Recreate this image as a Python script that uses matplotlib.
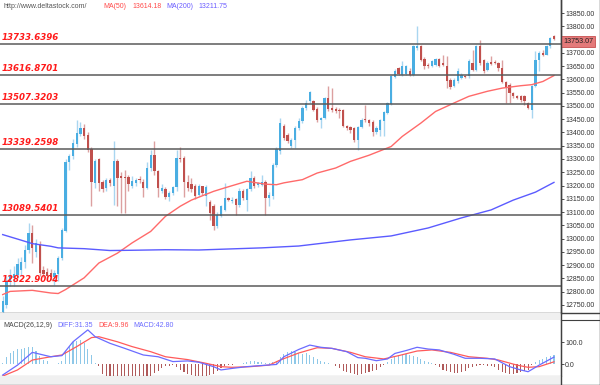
import matplotlib
matplotlib.use("Agg")
import matplotlib.pyplot as plt
from matplotlib.lines import Line2D
from matplotlib.patches import Rectangle
import numpy as np

# ---------------- data ----------------
opens = [12725, 12750, 12840, 12850, 12864, 12880, 12910, 12958, 13020, 12950,
         12975, 12880, 12875, 12870, 12855, 12865, 12927, 13030, 13290, 13310,
         13355, 13395, 13418, 13390, 13337, 13210, 13298, 13212, 13190, 13222,
         13197, 13291, 13235, 13233, 13232, 13200, 13210, 13225, 13215, 13192,
         13266, 13316, 13254, 13180, 13185, 13158, 13170, 13195, 13305, 13305,
         13215, 13205, 13200, 13165, 13197, 13160, 13137, 13122, 13046, 13084,
         13109, 13153, 13141, 13149, 13128, 13178, 13147, 13185, 13228, 13201,
         13203, 13212, 13153, 13159, 13279, 13329, 13426, 13392, 13348, 13373,
         13417, 13442, 13492, 13517, 13517, 13488, 13448, 13455, 13530, 13492,
         13488, 13486, 13483, 13423, 13421, 13417, 13370, 13421, 13450, 13448,
         13440, 13400, 13410, 13442, 13473, 13508, 13609, 13643, 13618, 13621,
         13630, 13618, 13718, 13724, 13677, 13655, 13649, 13655, 13677, 13661,
         13651, 13599, 13576, 13592, 13605, 13614, 13614, 13661, 13636, 13724,
         13674, 13634, 13667, 13665, 13663, 13643, 13589, 13580, 13548, 13536,
         13538, 13536, 13511, 13486, 13574, 13674, 13699, 13693, 13724, 13762]
highs = [12785, 12860, 12885, 12895, 12925, 12930, 12975, 13058, 13052, 13000,
         12990, 12895, 12890, 12885, 12880, 12935, 13040, 13300, 13320, 13375,
         13448, 13440, 13430, 13400, 13345, 13300, 13305, 13220, 13230, 13230,
         13366, 13300, 13250, 13260, 13240, 13235, 13230, 13235, 13225, 13290,
         13335, 13366, 13260, 13205, 13195, 13180, 13200, 13335, 13345, 13310,
         13240, 13230, 13205, 13205, 13200, 13203, 13145, 13130, 13100, 13125,
         13210, 13158, 13155, 13152, 13190, 13185, 13190, 13254, 13235, 13215,
         13241, 13220, 13175, 13285, 13345, 13455, 13432, 13398, 13380, 13425,
         13455, 13500, 13524, 13555, 13524, 13495, 13460, 13535, 13574, 13568,
         13495, 13492, 13488, 13428, 13425, 13420, 13425, 13455, 13505, 13452,
         13445, 13425, 13450, 13480, 13515, 13615, 13640, 13648, 13668, 13655,
         13643, 13730, 13800, 13730, 13683, 13660, 13672, 13680, 13680, 13693,
         13687, 13605, 13605, 13643, 13625, 13618, 13675, 13712, 13730, 13749,
         13678, 13668, 13687, 13674, 13667, 13674, 13592, 13585, 13552, 13540,
         13542, 13540, 13515, 13578, 13705, 13705, 13712, 13728, 13760, 13768]
lows = [12715, 12740, 12820, 12822, 12850, 12860, 12890, 12945, 12908, 12930,
        12860, 12855, 12845, 12845, 12825, 12840, 12920, 13025, 13260, 13300,
        13345, 13385, 13375, 13325, 13122, 13190, 13180, 13175, 13180, 13200,
        13128, 13122, 13097, 13097, 13180, 13190, 13200, 13210, 13155, 13185,
        13255, 13240, 13155, 13170, 13150, 13140, 13165, 13180, 13290, 13155,
        13178, 13175, 13150, 13160, 13165, 13122, 13071, 13034, 13040, 13080,
        13105, 13140, 13135, 13090, 13120, 13145, 13103, 13180, 13190, 13195,
        13198, 13090, 13122, 13150, 13270, 13320, 13370, 13360, 13342, 13342,
        13410, 13436, 13485, 13510, 13480, 13440, 13417, 13450, 13480, 13478,
        13475, 13455, 13420, 13410, 13398, 13365, 13335, 13415, 13440, 13425,
        13385, 13395, 13385, 13385, 13470, 13505, 13605, 13615, 13612, 13618,
        13612, 13612, 13712, 13668, 13640, 13643, 13645, 13650, 13645, 13650,
        13567, 13565, 13570, 13588, 13600, 13604, 13605, 13630, 13630, 13655,
        13625, 13630, 13655, 13658, 13630, 13585, 13511, 13511, 13530, 13525,
        13515, 13505, 13488, 13454, 13570, 13630, 13688, 13690, 13720, 13750]
closes = [12765, 12840, 12858, 12865, 12905, 12910, 12958, 13020, 12965, 12985,
          12870, 12868, 12860, 12855, 12870, 12927, 13034, 13290, 13310, 13360,
          13398, 13418, 13385, 13335, 13212, 13291, 13210, 13185, 13222, 13210,
          13291, 13228, 13229, 13228, 13204, 13216, 13222, 13220, 13190, 13266,
          13316, 13254, 13191, 13191, 13155, 13170, 13195, 13305, 13300, 13215,
          13190, 13185, 13162, 13197, 13172, 13195, 13097, 13046, 13090, 13122,
          13153, 13147, 13147, 13128, 13178, 13153, 13185, 13228, 13197, 13210,
          13212, 13153, 13165, 13279, 13338, 13436, 13379, 13367, 13373, 13417,
          13442, 13492, 13511, 13551, 13486, 13448, 13455, 13530, 13488, 13483,
          13482, 13480, 13423, 13417, 13411, 13373, 13421, 13448, 13446, 13436,
          13402, 13417, 13445, 13476, 13511, 13611, 13630, 13621, 13649, 13649,
          13618, 13724, 13724, 13674, 13649, 13649, 13668, 13677, 13651, 13655,
          13592, 13571, 13599, 13630, 13618, 13609, 13668, 13636, 13724, 13661,
          13630, 13663, 13659, 13661, 13643, 13589, 13567, 13548, 13536, 13530,
          13521, 13517, 13492, 13574, 13674, 13699, 13693, 13724, 13756, 13753.07]

ma50_idx = [0, 2, 8, 13, 15, 17, 22, 26, 31, 35, 40, 44, 48, 51, 57, 60, 66, 71,
            74, 76, 81, 85, 90, 94, 99, 105, 108, 113, 117, 122, 126, 131, 135,
            140, 143, 146, 149]
ma50_val = [12789, 12801, 12805, 12795, 12793, 12808, 12852, 12908, 12945, 12984,
            13027, 13084, 13122, 13145, 13178, 13191, 13216, 13205, 13203, 13210,
            13222, 13247, 13266, 13291, 13314, 13347, 13385, 13435, 13479, 13511,
            13536, 13555, 13567, 13576, 13580, 13592, 13614.18]

ma200_idx = [0, 5, 8, 13, 15, 22, 29, 35, 44, 53, 70, 80, 94, 105, 115, 124,
             132, 138, 144, 149]
ma200_val = [13015, 12994, 12981, 12971, 12965, 12962, 12955, 12956, 12958, 12957,
             12965, 12972, 12995, 13010, 13040, 13078, 13108, 13145, 13175, 13211.75]

levels = [13733.6396, 13616.8701, 13507.3203, 13339.2598, 13089.5401, 12822.9004]

diff_idx = [0, 4, 8, 13, 16, 19, 23, 25, 29, 33, 38, 42, 46, 50, 53, 57, 59, 62,
            66, 69, 74, 76, 80, 83, 86, 89, 93, 96, 98, 101, 104, 106, 109, 112,
            115, 118, 122, 125, 129, 133, 137, 140, 142, 145, 149]
diff_val = [-50, -5, 53, 33, 38, 101, 155, 124, 94, 71, 41, 33, 11, 14, 8, -12,
            -27, -20, -12, -8, -2, 33, 66, 86, 76, 71, 56, 29, 26, 15, 23, 48, 61,
            76, 68, 64, 44, 26, 26, 23, -12, -27, -35, -5, 31.35]
dea_idx = [0, 4, 8, 13, 16, 20, 24, 26, 31, 35, 40, 44, 50, 55, 59, 62, 67, 72,
           75, 80, 85, 89, 94, 98, 103, 107, 112, 116, 121, 126, 131, 134, 139,
           142, 145, 149]
dea_val = [-55, -27, 18, 33, 41, 79, 120, 124, 101, 79, 56, 33, 20, 3, -12, -15,
           -12, -5, 18, 50, 74, 71, 53, 33, 23, 38, 59, 64, 53, 33, 26, 18, -5,
           -15, -12, 9.96]
macd_hist = [5, 30, 50, 60, 68, 70, 74, 79, 76, 58,
             35, 20, 12, 2, -2, 3, 12, 60, 80, 98,
             105, 108, 95, 70, 40, 5, -10, -45, -55, -55,
             -55, -55, -55, -55, -55, -55, -55, -55, -55, -55,
             -55, -40, -30, -20, -10, -8, -6, -15, -25, -35,
             -45, -50, -55, -55, -55, -55, -50, -45, -30, -20,
             -10, -5, -3, -2, 0, 5, 10, 12, 12, 10,
             8, 5, 5, 8, 15, 30, 45, 55, 60, 55,
             48, 45, 48, 40, 33, 22, 15, 8, 3, 0,
             -10, -20, -30, -35, -40, -45, -48, -45, -40, -35,
             -30, -25, -15, -5, 10, 25, 35, 40, 42, 44,
             40, 35, 30, 22, 15, 8, 3, -5, -15, -25,
             -30, -35, -40, -40, -38, -30, -20, -12, -8, -5,
             -5, -8, -10, -15, -25, -35, -40, -45, -45, -40,
             -35, -30, -25, -5, 10, 20, 25, 30, 38, 42.80]

price_ticks = list(range(12750, 13851, 50))
macd_ticks = [0.0, 100.0]

# ---------------- figure ----------------
W, H = 600, 385
fig = plt.figure(figsize=(W / 100, H / 100), dpi=100)
fig.patch.set_facecolor("white")


def fy(py):
    return 1 - py / H


FONT = "Liberation Sans"
UP, DOWN = "#4aaee2", "#c0504d"
UP_W, DOWN_W = "#a9d6f0", "#dca0a0"

# grey bands
for y0, y1 in [(313, 320), (376, 384)]:
    fig.patches.append(Rectangle((0, fy(y1)), 561 / W, (y1 - y0) / H,
                                 transform=fig.transFigure, facecolor="#f0f0f0",
                                 edgecolor="none", zorder=0))

ax = fig.add_axes([0, fy(313), 561 / W, 313 / H])
ax.set_facecolor("white")
n = len(closes)
x = np.arange(n)
ax.set_xlim(-0.73, 150.9)
ax.set_ylim(12719.6, 13899)

o = np.array(opens, float)
c = np.array(closes, float)
hi = np.array(highs, float)
lo = np.array(lows, float)
up = c >= o
ax.vlines(x[up], lo[up], hi[up], color=UP_W, lw=1, zorder=2)
ax.vlines(x[~up], lo[~up], hi[~up], color=DOWN_W, lw=1, zorder=2)
body_bot = np.minimum(o, c)
body_h = np.maximum(np.abs(c - o), 3)
ax.bar(x[up], body_h[up], bottom=body_bot[up], width=0.62, color=UP, zorder=3, lw=0)
ax.bar(x[~up], body_h[~up], bottom=body_bot[~up], width=0.62, color=DOWN, zorder=3, lw=0)

ax.plot(ma50_idx, ma50_val, color="#ff6a6a", lw=1, zorder=4)
ax.plot(ma200_idx, ma200_val, color="#5b5bff", lw=1, zorder=4)

for lv in levels:
    ax.axhline(lv, color="#5a5a5a", lw=1.1, zorder=5)
    ax.annotate(f"{lv:.4f}", xy=(0, lv), xycoords=("axes fraction", "data"),
                xytext=(2, 2), textcoords="offset pixels", ha="left", va="bottom",
                color="#ff1a1a", fontsize=6.2, fontweight="bold", fontstyle="italic",
                family="DejaVu Sans", zorder=6)

ax.yaxis.tick_right()
ax.set_yticks(price_ticks)
ax.set_yticklabels([f"{t:.2f}" for t in price_ticks])
ax.tick_params(axis="y", labelsize=5, length=2, width=0.6, colors="#333333", pad=1)
for lab in ax.get_yticklabels():
    lab.set_family(FONT)
ax.set_xticks([])
for s in ["top", "left"]:
    ax.spines[s].set_visible(False)
ax.spines["right"].set_color("#404040")
ax.spines["bottom"].set_color("#404040")
ax.spines["right"].set_linewidth(1)
ax.spines["bottom"].set_linewidth(1)

ax.annotate(f"{closes[-1]:.2f}", xy=(1, closes[-1]), xycoords=("axes fraction", "data"),
            xytext=(2, -3), textcoords="offset pixels", ha="left", va="center",
            fontsize=5.2, family=FONT, color="#222222", zorder=10,
            bbox=dict(boxstyle="square,pad=0.25", facecolor="#e47a7a",
                      edgecolor="#c85050", lw=0.6), annotation_clip=False)

# header
fig.text(3 / W, fy(6), "http://www.deltastock.com/", fontsize=5, family=FONT,
         color="#555555", va="center", ha="left")
fig.text(103 / W, fy(6), "MA(50)", fontsize=5, family=FONT, color="#ff4a4a", va="center")
fig.text(132 / W, fy(6), "13614.18", fontsize=5, family=FONT, color="#ff4a4a", va="center")
fig.text(166 / W, fy(6), "MA(200)", fontsize=5, family=FONT, color="#6a5cff", va="center")
fig.text(198 / W, fy(6), "13211.75", fontsize=5, family=FONT, color="#6a5cff", va="center")

# MACD panel
ax2 = fig.add_axes([0, fy(376), 561 / W, 56 / H])
ax2.set_facecolor("white")
ax2.set_xlim(-0.73, 150.9)
ax2.set_ylim(-54.5, 200)
hv = np.array(macd_hist, float)
pos = hv >= 0
ax2.bar(x[pos], hv[pos], width=0.3, color="#8ec8e8", lw=0, zorder=2)
ax2.bar(x[~pos], hv[~pos], width=0.3, color="#b05a5a", lw=0, zorder=2)
ax2.plot(dea_idx, dea_val, color="#ff5a5a", lw=0.9, zorder=3)
ax2.plot(diff_idx, diff_val, color="#6b6bff", lw=0.9, zorder=4)
ax2.yaxis.tick_right()
ax2.set_yticks(macd_ticks)
ax2.set_yticklabels([f"{t:.1f}" for t in macd_ticks])
ax2.tick_params(axis="y", labelsize=5, length=2, width=0.6, colors="#333333", pad=1)
for lab in ax2.get_yticklabels():
    lab.set_family(FONT)
ax2.set_xticks([])
for s in ["top", "left"]:
    ax2.spines[s].set_visible(False)
ax2.spines["right"].set_color("#404040")
ax2.spines["bottom"].set_color("#404040")

fig.text(3 / W, fy(325.5), "MACD(26,12,9)", fontsize=5, family=FONT, color="#444444", va="center")
fig.text(57 / W, fy(325.5), "DIFF:31.35", fontsize=5, family=FONT, color="#6b6bff", va="center")
fig.text(98 / W, fy(325.5), "DEA:9.96", fontsize=5, family=FONT, color="#ff4a4a", va="center")
fig.text(133 / W, fy(325.5), "MACD:42.80", fontsize=5, family=FONT, color="#6b6bff", va="center")

# frame lines
fig.add_artist(Line2D([561 / W, 561 / W], [0, 1], transform=fig.transFigure, color="#404040", lw=1))
fig.add_artist(Line2D([599.5 / W, 599.5 / W], [0, 1], transform=fig.transFigure, color="#404040", lw=1))
fig.add_artist(Line2D([0, 1], [fy(384.5), fy(384.5)], transform=fig.transFigure, color="#404040", lw=1))
fig.add_artist(Line2D([561 / W, 1], [fy(313), fy(313)], transform=fig.transFigure, color="#404040", lw=1))
fig.add_artist(Line2D([561 / W, 1], [fy(320), fy(320)], transform=fig.transFigure, color="#404040", lw=0.8))

fig.savefig("out.png", dpi=100, facecolor="white")
